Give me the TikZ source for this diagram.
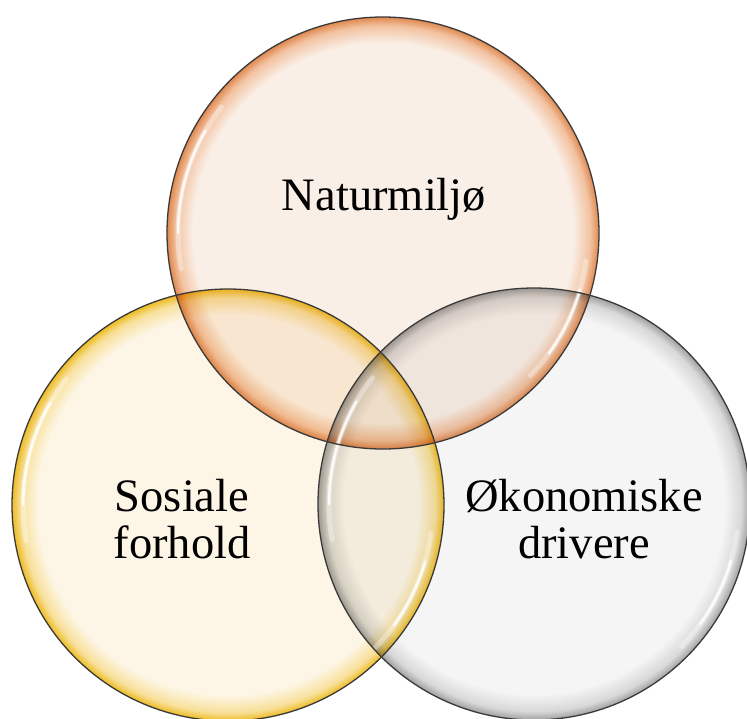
\documentclass[tikz,border=0pt]{standalone}
\usepackage{fontspec}
\setmainfont{Liberation Serif}
\definecolor{orangefill}{HTML}{FAEFE7}
\definecolor{orangeglow}{HTML}{F2C2A0}
\definecolor{orangerim}{HTML}{E0884F}
\definecolor{yellowfill}{HTML}{FDF6E6}
\definecolor{yellowglow}{HTML}{F8E09A}
\definecolor{yellowrim}{HTML}{EDBB22}
\definecolor{grayfill}{HTML}{F5F5F5}
\definecolor{grayglow}{HTML}{D8D8D8}
\definecolor{grayrim}{HTML}{A0A0A0}
\definecolor{outline}{HTML}{3A3A3A}
% the path fills the middle 50bp of a shading, so the rim sits at 25bp
\pgfdeclareradialshading{glassorange}{\pgfpoint{0bp}{0bp}}{color(0bp)=(orangefill); color(22bp)=(orangefill); color(24bp)=(orangeglow); color(25bp)=(orangerim); color(50bp)=(orangerim)}
\pgfdeclareradialshading{glassyellow}{\pgfpoint{0bp}{0bp}}{color(0bp)=(yellowfill); color(22bp)=(yellowfill); color(24bp)=(yellowglow); color(25bp)=(yellowrim); color(50bp)=(yellowrim)}
\pgfdeclareradialshading{glassgray}{\pgfpoint{0bp}{0bp}}{color(0bp)=(grayfill); color(22bp)=(grayfill); color(24bp)=(grayglow); color(25bp)=(grayrim); color(50bp)=(grayrim)}

\begin{document}
\begin{tikzpicture}[
  x=1pt, y=1pt,
  bubble/.style={circle, minimum size=432pt, inner sep=0pt},
  rim/.style={circle, minimum size=432pt, inner sep=0pt, draw=outline, line width=1.3pt},
  gleam/.style={white, line cap=round, line width=2.5pt, opacity=0.85},
  softgleam/.style={white, line cap=round, line width=5pt, opacity=0.35},
  label/.style={font=\fontsize{46.5}{47}\selectfont, align=center, text=black, inner sep=0pt}
]
\useasboundingbox (0,0) rectangle (747,-718);

% glass bubbles, multiplied where they overlap
\begin{scope}[blend mode=multiply]
  \node[bubble, shading=glassyellow] (sosial) at (228,-505) {};
  \node[bubble, shading=glassgray] (okonomi) at (534,-504) {};
  \node[bubble, shading=glassorange] (natur) at (383,-233) {};
\end{scope}

% highlights
\foreach \c in {sosial, okonomi, natur} {
  \draw[softgleam] (\c.center) ++(142:205pt) arc[start angle=142, end angle=190, radius=205pt];
  \draw[gleam] (\c.center) ++(150:205pt) arc[start angle=150, end angle=180, radius=205pt];
  \draw[softgleam] (\c.center) ++(-44:205pt) arc[start angle=-44, end angle=-8, radius=205pt];
  \draw[gleam] (\c.center) ++(-36:205pt) arc[start angle=-36, end angle=-16, radius=205pt];
}

% outlines
\node[rim] at (sosial.center) {};
\node[rim] at (okonomi.center) {};
\node[rim] at (natur.center) {};

\node[label, anchor=base] (naturtext) at (384,-210) {Naturmiljø};
\node[label, anchor=base] (sosialtext) at (182,-558) {Sosiale\\forhold};
\node[label, anchor=base] (okonomitext) at (584,-558) {Økonomiske\\drivere};
\end{tikzpicture}
\end{document}
